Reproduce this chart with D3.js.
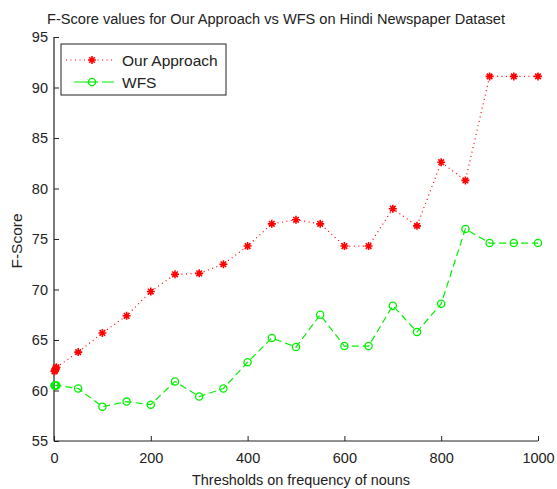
<!DOCTYPE html>
<html><head><meta charset="utf-8">
<script src="https://cdn.jsdelivr.net/npm/d3@7"></script>
<style>
body{margin:0;background:#fff;}
text{font-family:"Liberation Sans",Arial,Helvetica,sans-serif;fill:#222;}
</style></head>
<body>
<svg id="c" width="557" height="489"></svg>
<script>
const thresholds = [1,2,3,4,5,50,100,150,200,250,300,350,400,450,500,550,600,650,700,750,800,850,900,950,1000];
const ourApproach = [61.9,62.0,62.1,62.2,62.3,63.8,65.7,67.4,69.8,71.5,71.6,72.5,74.3,76.5,76.9,76.5,74.3,74.3,78.0,76.3,82.6,80.8,91.1,91.1,91.1];
const wfs = [60.5,60.5,60.5,60.5,60.5,60.2,58.4,58.9,58.6,60.9,59.4,60.2,62.8,65.2,64.3,67.5,64.4,64.4,68.4,65.8,68.6,76.0,74.6,74.6,74.6];
const xTicks = [0,200,400,600,800,1000];
const yTicks = [55,60,65,70,75,80,85,90,95];
const seriesNames = ["Our Approach","WFS"];
const titleText = "F-Score values for Our Approach vs WFS on Hindi Newspaper Dataset";
const xLabel = "Thresholds on frequency of nouns";
const yLabel = "F-Score";

const svg = d3.select("#c");
const L = 54, R = 538, T = 37, B = 441;
const x = d3.scaleLinear().domain([0,1000]).range([L,R]);
const y = d3.scaleLinear().domain([55,95]).range([B,T]);
const axisColor = "#222";

// axes
const gx = svg.append("g").attr("transform",`translate(0,${B})`)
  .call(d3.axisBottom(x).tickValues(xTicks).tickSize(-5).tickPadding(10).tickFormat(d3.format("d")));
const gy = svg.append("g").attr("transform",`translate(${L},0)`)
  .call(d3.axisLeft(y).tickValues(yTicks).tickSize(-5).tickPadding(6).tickFormat(d3.format("d")));
[gx,gy].forEach(g=>{
  g.select(".domain").attr("stroke",axisColor).attr("stroke-width",1.2).attr("d", g===gx ? `M${L},0H${R}` : `M0,${B}V${T}`);
  g.selectAll(".tick line").attr("stroke",axisColor);
  g.selectAll(".tick text").attr("font-size",14.5).attr("fill","#222").attr("font-family",'"Liberation Sans",Arial,sans-serif');
});
gx.selectAll(".tick text").attr("dy","0.85em");

// title & labels
svg.append("text").attr("x",276).attr("y",24).attr("text-anchor","middle").attr("font-size",14).attr("textLength",458).attr("lengthAdjust","spacingAndGlyphs").text(titleText);
svg.append("text").attr("x",301).attr("y",485).attr("text-anchor","middle").attr("font-size",14.5).attr("textLength",218).attr("lengthAdjust","spacingAndGlyphs").text(xLabel);
svg.append("text").attr("transform",`translate(22,241) rotate(-90)`).attr("text-anchor","middle").attr("font-size",15.5).text(yLabel);

const red = "#ff0000", green = "#00f000";
const line = d3.line().x(d=>x(d[0])).y(d=>y(d[1]));
const redData = thresholds.map((t,i)=>[t,ourApproach[i]]);
const greenData = thresholds.map((t,i)=>[t,wfs[i]]);

function star(g, cx, cy, r){
  const d = `M${cx-r},${cy}H${cx+r}M${cx},${cy-r}V${cy+r}M${cx-r*0.7},${cy-r*0.7}L${cx+r*0.7},${cy+r*0.7}M${cx-r*0.7},${cy+r*0.7}L${cx+r*0.7},${cy-r*0.7}`;
  g.append("path").attr("d",d).attr("stroke",red).attr("stroke-width",1.6).attr("fill","none");
}

// green series
svg.append("path").datum(greenData).attr("d",line).attr("fill","none").attr("stroke",green).attr("stroke-width",1.2).attr("stroke-dasharray","7,4");
svg.append("g").selectAll("circle").data(greenData).join("circle")
  .attr("cx",d=>x(d[0])).attr("cy",d=>y(d[1])).attr("r",3.6)
  .attr("fill","none").attr("stroke",green).attr("stroke-width",1.3);

// red series
svg.append("path").datum(redData).attr("d",line).attr("fill","none").attr("stroke",red).attr("stroke-width",1.2).attr("stroke-dasharray","1,3.5");
const rg = svg.append("g");
redData.forEach(d=>star(rg, x(d[0]), y(d[1]), 4));

// legend
const lg = svg.append("g");
lg.append("rect").attr("x",61).attr("y",44).attr("width",165).attr("height",51).attr("fill","#fff").attr("stroke",axisColor).attr("stroke-width",1);
lg.append("line").attr("x1",66).attr("x2",113).attr("y1",60).attr("y2",60).attr("stroke",red).attr("stroke-width",1.2).attr("stroke-dasharray","1,3.5");
star(lg, 92, 60, 4);
lg.append("text").attr("x",122).attr("y",65.5).attr("font-size",15.5).text(seriesNames[0]);
lg.append("line").attr("x1",74).attr("x2",116).attr("y1",82).attr("y2",82).attr("stroke",green).attr("stroke-width",1.2).attr("stroke-dasharray","12,16");
lg.append("circle").attr("cx",92).attr("cy",82).attr("r",3.6).attr("fill","none").attr("stroke",green).attr("stroke-width",1.3);
lg.append("line").attr("x1",86).attr("x2",98).attr("y1",82).attr("y2",82).attr("stroke",green).attr("stroke-width",1.2);
lg.append("text").attr("x",122).attr("y",87.5).attr("font-size",15.5).text(seriesNames[1]);
</script>
</body></html>
